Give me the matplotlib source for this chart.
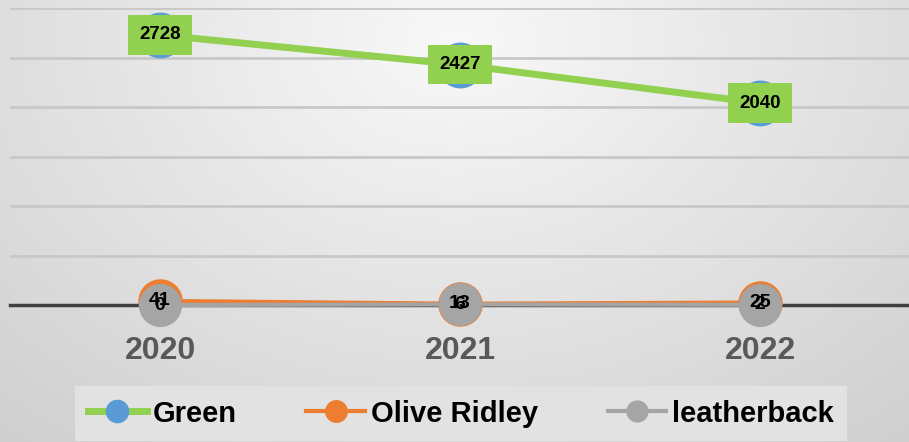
import matplotlib.pyplot as plt
import numpy as np

years = ['2020', '2021', '2022']
green = [2728, 2427, 2040]
olive_ridley = [41, 13, 25]
leatherback = [0, 6, 2]

plt.rcParams['font.family'] = ['Liberation Sans', 'DejaVu Sans']

fig = plt.figure(figsize=(9.09, 4.42), dpi=100)

# radial grey background like the office chart style
bg = fig.add_axes([0, 0, 1, 1], zorder=0)
yy, xx = np.mgrid[0:442, 0:909]
r = np.sqrt(((xx - 455) / 650.0) ** 2 + ((yy - 40) / 480.0) ** 2)
shade = 0.975 - 0.15 * np.clip(r, 0, 1.2)
bg.imshow(np.dstack([shade, shade, shade]), aspect='auto')
bg.axis('off')

ax = fig.add_axes([10 / 909, 137 / 442, 900 / 909, 297 / 442], zorder=1)
ax.patch.set_alpha(0)
x = np.arange(len(years))

ax.plot(x, green, color='#92D050', lw=5, marker='o', ms=32,
        mfc='#5B9BD5', mec='#5B9BD5', label='Green', zorder=3, clip_on=False)
ax.plot(x, olive_ridley, color='#ED7D31', lw=3, marker='o', ms=31,
        mfc='#ED7D31', mec='#ED7D31', label='Olive Ridley', zorder=4, clip_on=False)
ax.plot(x, leatherback, color='#A5A5A5', lw=3, marker='o', ms=30,
        mfc='#A5A5A5', mec='#A5A5A5', label='leatherback', zorder=5, clip_on=False)

for xi, v in zip(x, green):
    ax.text(xi, v, str(v), ha='center', va='center', fontsize=13.5, fontweight='bold',
            color='black', zorder=6,
            bbox=dict(boxstyle='square,pad=0.6', fc='#92D050', ec='none'))
for xi, v in zip(x, olive_ridley):
    ax.text(xi, v, str(v), ha='center', va='center', fontsize=14, fontweight='bold',
            color='black', zorder=6)
for xi, v in zip(x, leatherback):
    ax.text(xi, v, str(v), ha='center', va='center', fontsize=14, fontweight='bold',
            color='black', zorder=6)

ax.set_xlim(-0.5, 2.5)
ax.set_ylim(0, 3000)
ax.set_yticks(np.arange(0, 3001, 500))
ax.set_yticklabels([])
ax.tick_params(axis='y', length=0)
ax.set_xticks(x)
ax.set_xticklabels(years, fontsize=23, fontweight='bold', color='#595959')
ax.tick_params(axis='x', length=0, pad=22)
ax.grid(axis='y', color='#c8c8c8', lw=2)
ax.set_axisbelow(True)
for s in ['top', 'right', 'left']:
    ax.spines[s].set_visible(False)
ax.spines['bottom'].set_color('#404040')
ax.spines['bottom'].set_linewidth(2.5)
ax.spines['bottom'].set_zorder(2)

leg = ax.legend(loc='lower center', bbox_to_anchor=(0.507, -0.03), bbox_transform=fig.transFigure,
                ncol=3, frameon=True, fancybox=False, markerscale=0.5,
                handlelength=2.0, columnspacing=2.4, handletextpad=0.2,
                borderpad=0.45, prop={'weight': 'bold', 'size': 21})
leg.get_frame().set_facecolor('#e2e2e2')
leg.get_frame().set_edgecolor('none')
leg.get_frame().set_alpha(1)

fig.savefig('out.png', dpi=100)
